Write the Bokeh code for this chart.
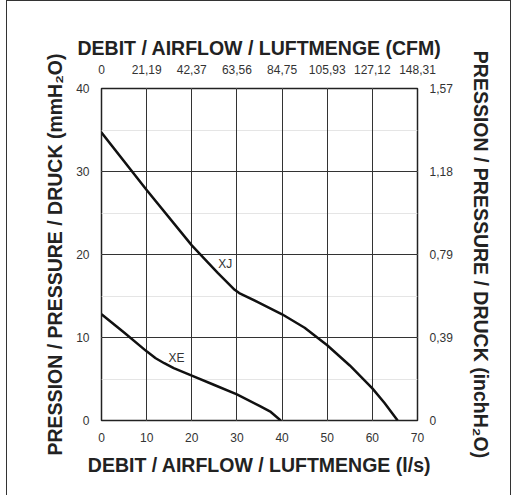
from bokeh.plotting import figure
from bokeh.models import LinearAxis, FixedTicker, Range1d, Grid, Spacer
from bokeh.layouts import row
from bokeh.embed import file_html
from bokeh.resources import INLINE
from bokeh.core.properties import value

# ---- data ----
flow_ticks = [0, 10, 20, 30, 40, 50, 60, 70]           # l/s
cfm_labels = ["0", "21,19", "42,37", "63,56", "84,75", "105,93", "127,12", "148,31"]
press_ticks = [0, 10, 20, 30, 40]                      # mmH2O
inch_labels = ["0", "0,39", "0,79", "1,18", "1,57"]

xj_flow = [0, 10, 20, 25.8, 29.5, 30.5, 34.3, 40, 45, 50, 55, 60, 62.7, 65.6]
xj_press = [34.7, 27.76, 21.1, 17.75, 15.75, 15.35, 14.35, 12.8, 11.17, 9.06, 6.63, 3.87, 2.1, 0]

xe_flow = [0, 5, 10, 12, 13.9, 16, 20, 25, 30, 35, 37.5, 39.7]
xe_press = [12.8, 10.6, 8.33, 7.5, 6.9, 6.3, 5.41, 4.28, 3.14, 1.76, 1.03, 0]

curve_names = ["XJ", "XE"]
name_x = [27.4, 16.6]
name_y = [18.9, 7.55]

FONT = "Liberation Sans"
TXT = "#222222"

p = figure(
    frame_width=314, frame_height=330,
    min_border_left=94, min_border_right=95, min_border_top=87, min_border_bottom=81,
    x_range=Range1d(0, 70), y_range=Range1d(0, 40),
    output_backend="svg", toolbar_location=None,
    x_axis_location=None, y_axis_location=None,
)
p.styles = {"border": "1.5px solid #333333"}
p.outline_line_color = "#222222"
p.outline_line_width = 1.5
p.background_fill_color = "white"
p.border_fill_color = "white"

def style_axis(ax, label, standoff_lbl, standoff_tick):
    ax.axis_label = label
    ax.axis_label_text_font = FONT
    ax.axis_label_text_font_size = "19.5px"
    ax.axis_label_text_font_style = "bold"
    ax.axis_label_text_color = TXT
    ax.axis_label_standoff = standoff_lbl
    ax.major_label_text_font = FONT
    ax.major_label_text_font_size = "12px"
    ax.major_label_text_color = "#333333"
    ax.major_label_standoff = standoff_tick
    ax.major_tick_in = 0
    ax.major_tick_out = 0
    ax.minor_tick_in = 0
    ax.minor_tick_out = 0
    ax.axis_line_color = None

xb = LinearAxis(ticker=FixedTicker(ticks=flow_ticks))
style_axis(xb, "DEBIT / AIRFLOW / LUFTMENGE (l/s)", 9, 12)
p.add_layout(xb, "below")

xt = LinearAxis(ticker=FixedTicker(ticks=flow_ticks))
xt.major_label_overrides = {t: l for t, l in zip(flow_ticks, cfm_labels)}
style_axis(xt, "DEBIT / AIRFLOW / LUFTMENGE (CFM)", 3, 15)
p.add_layout(xt, "above")

yl = LinearAxis(ticker=FixedTicker(ticks=press_ticks))
style_axis(yl, "PRESSION / PRESSURE / DRUCK (mmH₂O)", 7, 12)
p.add_layout(yl, "left")

yr = LinearAxis(ticker=FixedTicker(ticks=press_ticks))
yr.major_label_overrides = {t: l for t, l in zip(press_ticks, inch_labels)}
style_axis(yr, "PRESSION / PRESSURE / DRUCK (inchH₂O)", 14, 12)
p.add_layout(yr, "right")

p.add_layout(Grid(dimension=0, ticker=FixedTicker(ticks=flow_ticks), grid_line_color="#333333", grid_line_width=1))
p.add_layout(Grid(dimension=1, ticker=FixedTicker(ticks=press_ticks), grid_line_color="#333333", grid_line_width=1))

p.line(xj_flow, xj_press, line_color="#111111", line_width=2.5, line_join="round")
p.line(xe_flow, xe_press, line_color="#111111", line_width=2.5, line_join="round")

p.text(x=name_x, y=name_y, text=curve_names, text_font=value(FONT), text_font_size="12px",
       text_color="#333333", text_align="center", text_baseline="middle")

layout = row(Spacer(width=6), p)
open("out.html", "w").write(file_html(layout, INLINE))
